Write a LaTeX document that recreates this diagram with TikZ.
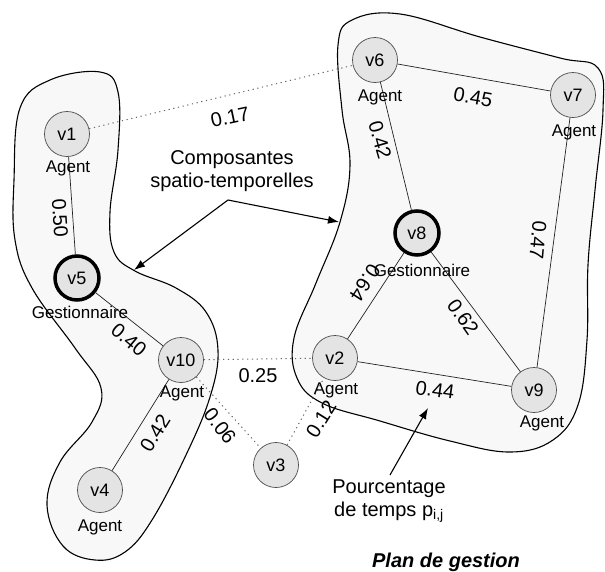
\documentclass[tikz,border=0pt]{standalone}
\usepackage{fontspec}
\setmainfont{Liberation Sans}
\usetikzlibrary{arrows.meta}
\definecolor{nodefill}{HTML}{E4E4E4}
\definecolor{blobfill}{HTML}{F8F8F8}
\definecolor{edgecol}{HTML}{222222}
\begin{document}
\begin{tikzpicture}[x=1pt,y=-1pt,
  vert/.style={circle, draw=black!70, fill=nodefill, line width=0.7pt, minimum size=45pt, inner sep=0pt, font=\fontsize{18}{18}\selectfont},
  mgr/.style={vert, draw=black, line width=3.5pt, minimum size=44pt},
  role/.style={font=\fontsize{17}{17}\selectfont, inner sep=0pt},
  wt/.style={font=\fontsize{20}{20}\selectfont, inner sep=0pt},
  solidedge/.style={draw=edgecol, line width=0.7pt},
  dotedge/.style={draw=black!60, line width=1pt, dash pattern=on 1.2pt off 3.6pt},
  blob/.style={draw=black, fill=blobfill, line width=1.1pt},
  ann/.style={font=\fontsize{20}{23}\selectfont, align=center, inner sep=0pt},
  pointer/.style={draw=black, line width=1.1pt, -{Latex[length=11pt,width=8pt]}}
]
\useasboundingbox (0,0) rectangle (605,571);
% blobs
\path[blob] plot[smooth cycle, tension=0.65] coordinates {(14,180) (20,108) (50,80) (100,72) (118,92) (118,150) (110,212) (114,252) (135,271) (176,288) (206,312) (218,350) (210,397) (186,455) (152,520) (125,552) (95,560) (63,546) (47,505) (60,462) (92,422) (101,388) (75,348) (32,288) (15,240)};
\path[blob] plot[smooth cycle, tension=0.65] coordinates {(338,45) (352,20) (400,14) (480,37) (560,58) (598,68) (603,110) (595,190) (588,265) (587,340) (578,405) (553,440) (510,452) (450,441) (380,421) (322,403) (297,378) (294,338) (316,283) (340,222) (350,165) (342,110)};
% vertices
\node[vert] (v1) at (67,134) {v1};
\node[mgr] (v5) at (77,278) {v5};
\node[vert] (v10) at (181,360) {v10};
\node[vert] (v4) at (100,490) {v4};
\node[vert] (v3) at (276,465) {v3};
\node[vert] (v6) at (375,60) {v6};
\node[vert] (v7) at (573,95) {v7};
\node[mgr] (v8) at (417,233) {v8};
\node[vert] (v2) at (335,358) {v2};
\node[vert] (v9) at (534,390) {v9};
% edges
\draw[solidedge] (v1) -- (v5);
\draw[solidedge] (v5) -- (v10);
\draw[solidedge] (v10) -- (v4);
\draw[solidedge] (v6) -- (v7);
\draw[solidedge] (v6) -- (v8);
\draw[solidedge] (v7) -- (v9);
\draw[solidedge] (v8) -- (v2);
\draw[solidedge] (v8) -- (v9);
\draw[solidedge] (v2) -- (v9);
\draw[dotedge] (v1) -- (v6);
\draw[dotedge] (v10) -- (v2);
\draw[dotedge] (v10) -- (v3);
\draw[dotedge] (v3) -- (v2);
% role labels
\node[role] (r1) at (68,168) {Agent};
\node[role] (r5) at (80,312) {Gestionnaire};
\node[role] (r10) at (182,393) {Agent};
\node[role] (r4) at (100,527) {Agent};
\node[role] (r6) at (380,97) {Agent};
\node[role] (r7) at (574,132) {Agent};
\node[role] (r8) at (422,270) {Gestionnaire};
\node[role] (r2) at (336,390) {Agent};
\node[role] (r9) at (542,423) {Agent};
% weights
\node[wt, rotate=12] (w16) at (230,117) {0.17};
\node[wt, rotate=-86] (w15) at (60,218) {0.50};
\node[wt, rotate=-40] (w510) at (129,340) {0.40};
\node[wt, rotate=58] (w104) at (155,433) {0.42};
\node[wt, rotate=-52] (w103) at (220,426) {0.06};
\node[wt, rotate=58] (w32) at (321,419) {0.12};
\node[wt] (w102) at (258,376) {0.25};
\node[wt, rotate=-10] (w67) at (473,97) {0.45};
\node[wt, rotate=-74] (w68) at (380,140) {0.42};
\node[wt, rotate=-95] (w79) at (538,240) {0.47};
\node[wt, rotate=237] (w82) at (365,283) {0.64};
\node[wt, rotate=-55] (w89) at (463,317) {0.62};
\node[wt, rotate=-8] (w29) at (435,390) {0.44};
% annotations
\node[ann] (comp) at (232,171) {Composantes\\spatio-temporelles};
\coordinate (cfork) at (228,200);
\coordinate (ltip) at (134,270);
\coordinate (rtip) at (339,222);
\draw[pointer] (cfork) -- (ltip);
\draw[pointer] (cfork) -- (rtip);
\node[ann] (pct) at (389,501) {Pourcentage\\de temps p\textsubscript{i,j}};
\coordinate (pfrom) at (390,475);
\coordinate (pto) at (428,408);
\draw[pointer] (pfrom) -- (pto);
\node[ann, font=\fontsize{20}{23}\selectfont\bfseries\itshape] (plan) at (446,562) {Plan de gestion};
\end{tikzpicture}
\end{document}
